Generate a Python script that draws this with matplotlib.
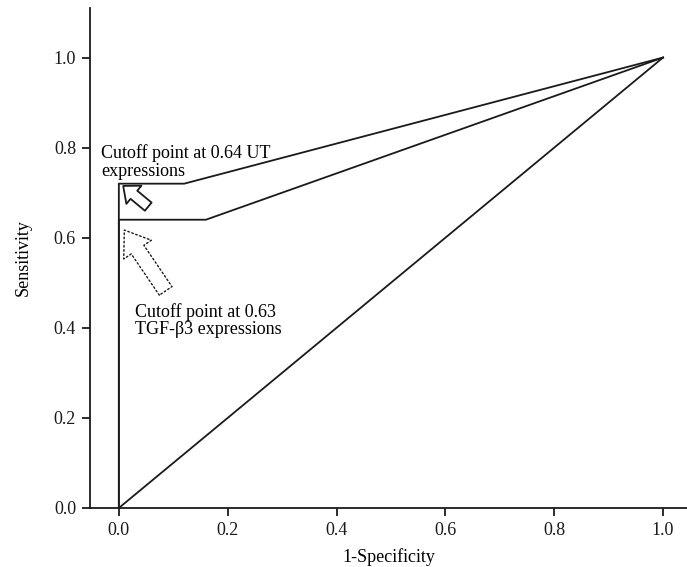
import matplotlib
matplotlib.use('Agg')
import matplotlib.pyplot as plt

plt.rcParams['font.family'] = ['Liberation Serif', 'DejaVu Serif']

# ROC curves (1-specificity, sensitivity)
ut_fpr = [0.0, 0.0, 0.12, 1.0]
ut_tpr = [0.0, 0.72, 0.72, 1.0]
tgf_fpr = [0.0, 0.0, 0.16, 1.0]
tgf_tpr = [0.0, 0.64, 0.64, 1.0]
ref_fpr = [0.0, 1.0]
ref_tpr = [0.0, 1.0]

ticks = [0.0, 0.2, 0.4, 0.6, 0.8, 1.0]
tick_labels = ['0.0', '0.2', '0.4', '0.6', '0.8', '1.0']

fig = plt.figure(figsize=(6.87, 5.67), dpi=100)
ax = fig.add_axes([90 / 687, 59 / 567, 597 / 687, 500 / 567])

lw = 1.3
ink = '#1a1a1a'
ax.plot(ut_fpr, ut_tpr, color=ink, lw=lw)
ax.plot(tgf_fpr, tgf_tpr, color=ink, lw=lw)
ax.plot(ref_fpr, ref_tpr, color=ink, lw=lw)

# hollow arrows pointing at the cutoff points
ax.annotate('', xy=(0.008, 0.715), xytext=(0.054, 0.669),
            arrowprops=dict(arrowstyle='simple,head_length=0.5,head_width=0.85,tail_width=0.38',
                            mutation_scale=20, fc='white', ec=ink, lw=1.3,
                            shrinkA=0, shrinkB=0))
ax.annotate('', xy=(0.010, 0.617), xytext=(0.086, 0.482),
            arrowprops=dict(arrowstyle='simple,head_length=0.85,head_width=1.2,tail_width=0.55',
                            mutation_scale=20, fc='white', ec=ink, lw=1.0,
                            linestyle=(0, (1.2, 1.8)), shrinkA=0, shrinkB=0))

# va='baseline' puts the last line on the given y
ax.text(-0.032, 0.737, 'Cutoff point at 0.64 UT\nexpressions', fontsize=13,
        ha='left', va='baseline', linespacing=1.1)
ax.text(0.029, 0.386, 'Cutoff point at 0.63\nTGF-\u03b23 expressions', fontsize=13,
        ha='left', va='baseline', linespacing=1.0)

ax.set_xlim(-0.053, 1.044)
ax.set_ylim(0, 1.11)
ax.set_xticks(ticks)
ax.set_xticklabels(tick_labels)
ax.set_yticks(ticks)
ax.set_yticklabels(tick_labels)
ax.spines['top'].set_visible(False)
ax.spines['right'].set_visible(False)
for s in ['left', 'bottom']:
    ax.spines[s].set_linewidth(1.3)
    ax.spines[s].set_color(ink)
ax.tick_params(direction='out', length=6, width=1.3, labelsize=13, colors=ink, pad=4)
ax.set_xlabel('1-Specificity', fontsize=13, labelpad=7)
ax.set_ylabel('Sensitivity', fontsize=13, labelpad=16)

plt.savefig('out.png', dpi=100)
